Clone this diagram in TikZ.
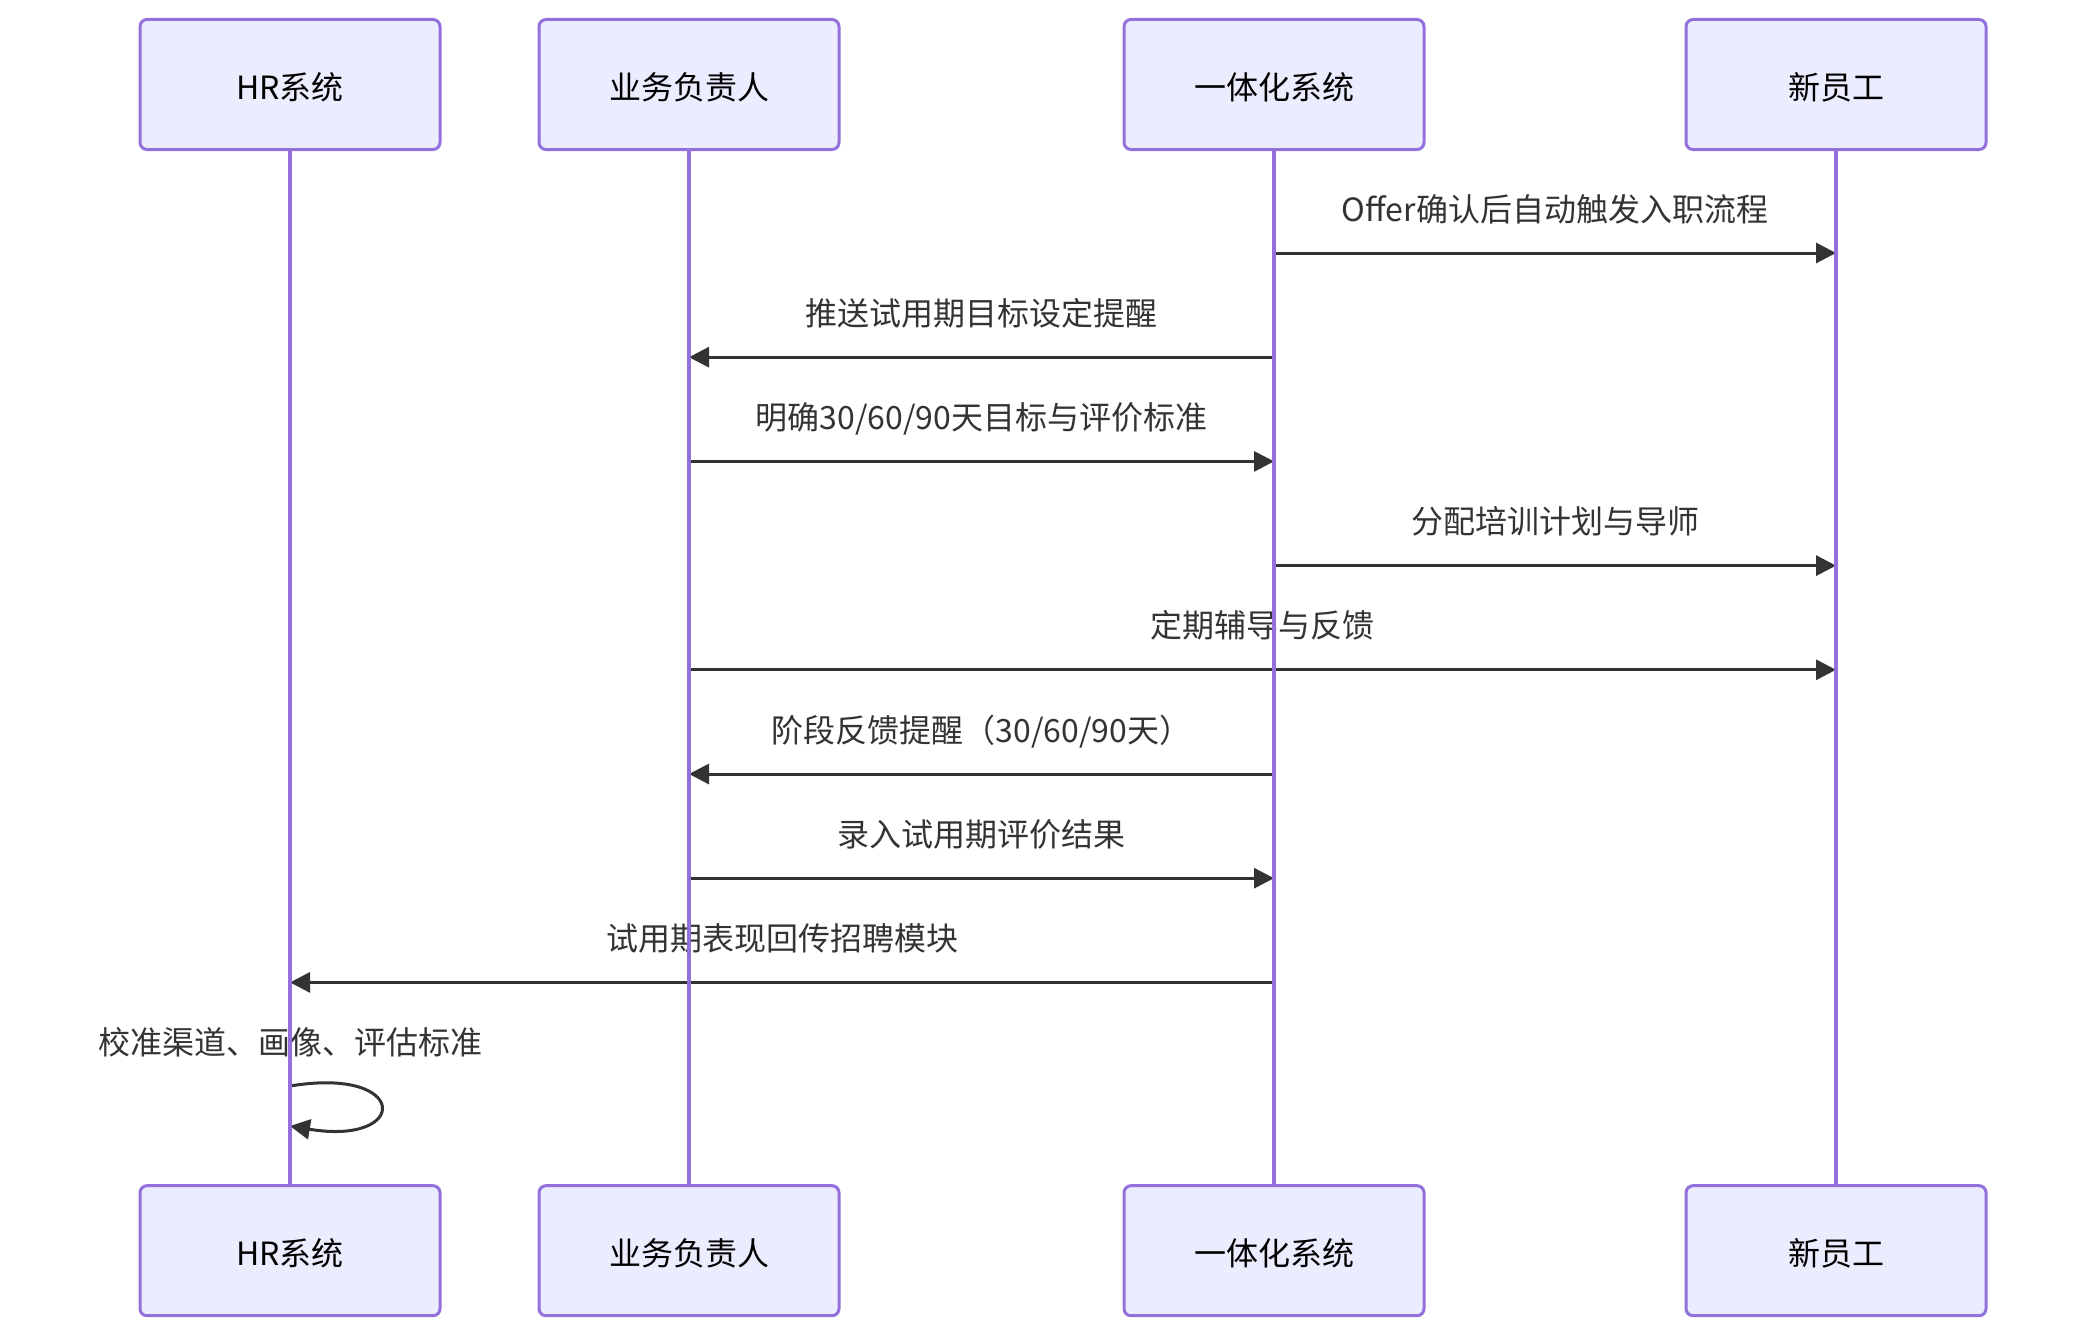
\documentclass[tikz,border=0pt]{standalone}
\usepackage{fontspec}
\setmainfont{Noto Sans CJK SC}
\usepackage{tikz}
\usetikzlibrary{arrows.meta, positioning}
\usepackage{xcolor}
\definecolor{actorfill}{HTML}{ECECFF}
\definecolor{actorline}{HTML}{9370DB}
\definecolor{msgdark}{HTML}{333333}

\tikzset{
  actor/.style={draw=actorline, fill=actorfill, line width=1.5pt, rounded corners=3.5pt,
    minimum width=150pt, minimum height=65pt, text=black,
    text height=16pt, text depth=1.5pt,
    font=\fontsize{16pt}{19pt}\selectfont},
  lifeline/.style={actorline, line width=2pt},
  msg/.style={msgdark, line width=1.5pt, -{Triangle[length=10pt, width=10pt]}},
  msglabel/.style={text=msgdark, anchor=base, yshift=16pt, inner sep=0pt,
    font=\fontsize{16pt}{19pt}\selectfont},
}

\begin{document}
\begin{tikzpicture}[x=0.5pt, y=-0.5pt]
  \useasboundingbox (0,0) rectangle (2086,1338);
  % participants, top and bottom
  \node[actor] (hr)  at (290,84.5)  {HR系统};
  \node[actor] (biz) at (689,84.5)  {业务负责人};
  \node[actor] (sys) at (1274,84.5) {一体化系统};
  \node[actor] (emp) at (1836,84.5) {新员工};
  \node[actor] (hr-end)  at (290,1250.7)  {HR系统};
  \node[actor] (biz-end) at (689,1250.7)  {业务负责人};
  \node[actor] (sys-end) at (1274,1250.7) {一体化系统};
  \node[actor] (emp-end) at (1836,1250.7) {新员工};

  % message rows
  \coordinate (r1) at (0,253);
  \coordinate (r2) at (0,357.2);
  \coordinate (r3) at (0,461.4);
  \coordinate (r4) at (0,565.6);
  \coordinate (r5) at (0,669.8);
  \coordinate (r6) at (0,774);
  \coordinate (r7) at (0,878.2);
  \coordinate (r8) at (0,982.4);
  \coordinate (r9) at (0,1086);
  \coordinate (r10) at (0,1126);

  \draw[msg] (sys |- r1) -- (emp |- r1) node[msglabel, midway] {Offer确认后自动触发入职流程};
  \draw[msg] (sys |- r2) -- (biz |- r2) node[msglabel, midway] {推送试用期目标设定提醒};
  \draw[msg] (biz |- r3) -- (sys |- r3) node[msglabel, midway] {明确30/60/90天目标与评价标准};
  \draw[msg] (sys |- r4) -- (emp |- r4) node[msglabel, midway] {分配培训计划与导师};
  \draw[msg] (biz |- r5) -- (emp |- r5) node[msglabel, midway] {定期辅导与反馈};
  \draw[msg] (sys |- r6) -- (biz |- r6) node[msglabel, midway] {阶段反馈提醒（30/60/90天）};
  \draw[msg] (biz |- r7) -- (sys |- r7) node[msglabel, midway] {录入试用期评价结果};
  \draw[msg] (sys |- r8) -- (hr |- r8) node[msglabel, midway] {试用期表现回传招聘模块};
  % self message
  \node[msglabel] (selfnote) at (hr |- r9) {校准渠道、画像、评估标准};
  \draw[msg] (hr |- r9) .. controls +(120,-20) and +(120,20) .. (hr |- r10);

  % lifelines
  \foreach \a in {hr,biz,sys,emp}
    \draw[lifeline] (\a.south) -- (\a-end.north);
\end{tikzpicture}
\end{document}
